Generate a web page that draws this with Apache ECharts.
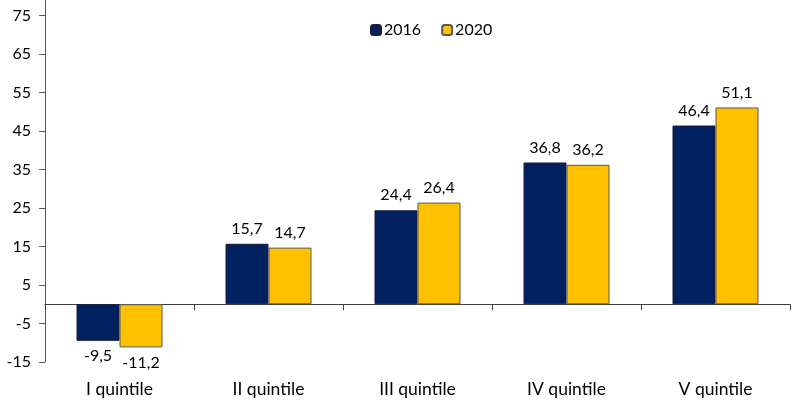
<!DOCTYPE html>
<html>
<head>
<meta charset="utf-8">
<script src="https://cdn.jsdelivr.net/npm/echarts@6/dist/echarts.min.js"></script>
<style>html,body{margin:0;padding:0;background:#fff}#c{width:800px;height:403px}</style>
</head>
<body>
<div id="c"></div>
<script>
const categories = ['I quintile', 'II quintile', 'III quintile', 'IV quintile', 'V quintile'];
const seriesNames = ['2016', '2020'];
const values2016 = [-9.5, 15.7, 24.4, 36.8, 46.4];
const values2020 = [-11.2, 14.7, 26.4, 36.2, 51.1];
const yTicks = [-15, -5, 5, 15, 25, 35, 45, 55, 65, 75];

const FONT = 'Lato';
const fmt = v => String(v).replace('.', ',');
function mkData(arr) {
  return arr.map(v => ({
    value: v,
    label: { position: v < 0 ? 'bottom' : 'top' }
  }));
}
const chart = echarts.init(document.getElementById('c'));
chart.setOption({
  animation: false,
  textStyle: { fontFamily: FONT },
  legend: {
    data: seriesNames,
    left: 365, top: 17,
    itemWidth: 10, itemHeight: 10, itemGap: 20,
    textStyle: { fontFamily: FONT, fontSize: 16, color: '#000', padding: [0, 0, 0, -2] }
  },
  grid: { left: 45, right: 10, top: 0, bottom: 41 },
  xAxis: [{
    type: 'category', data: categories,
    axisLine: { onZero: true, lineStyle: { color: '#404040', width: 1 } },
    axisTick: { show: true, inside: false, length: 6, lineStyle: { color: '#404040' } },
    axisLabel: { show: false }
  }, {
    type: 'category', data: categories, position: 'bottom',
    axisLine: { show: false, onZero: false }, axisTick: { show: false },
    axisLabel: { fontFamily: FONT, fontSize: 17.5, color: '#000', margin: 18 }
  }],
  yAxis: {
    type: 'value', min: -15, max: 79,
    splitLine: { show: false },
    axisLine: { show: true, lineStyle: { color: '#595959' } },
    axisTick: { show: true, length: 6, lineStyle: { color: '#595959' }, customValues: yTicks },
    axisLabel: { fontFamily: FONT, fontSize: 16, color: '#000', margin: 14, customValues: yTicks }
  },
  series: [{
    name: seriesNames[0], type: 'bar', xAxisIndex: 0,
    data: mkData(values2016), barWidth: 43, barGap: '0%',
    itemStyle: { color: '#002060', borderColor: '#1a1a3a', borderWidth: 1 },
    label: { show: true, fontFamily: FONT, fontSize: 16, color: '#000', distance: 7, formatter: p => fmt(p.value) }
  }, {
    name: seriesNames[1], type: 'bar', xAxisIndex: 0,
    data: mkData(values2020), barWidth: 43, barGap: '0%',
    itemStyle: { color: '#FFC000', borderColor: '#595959', borderWidth: 1 },
    label: { show: true, fontFamily: FONT, fontSize: 16, color: '#000', distance: 7, formatter: p => fmt(p.value) }
  }]
});
</script>
</body>
</html>
